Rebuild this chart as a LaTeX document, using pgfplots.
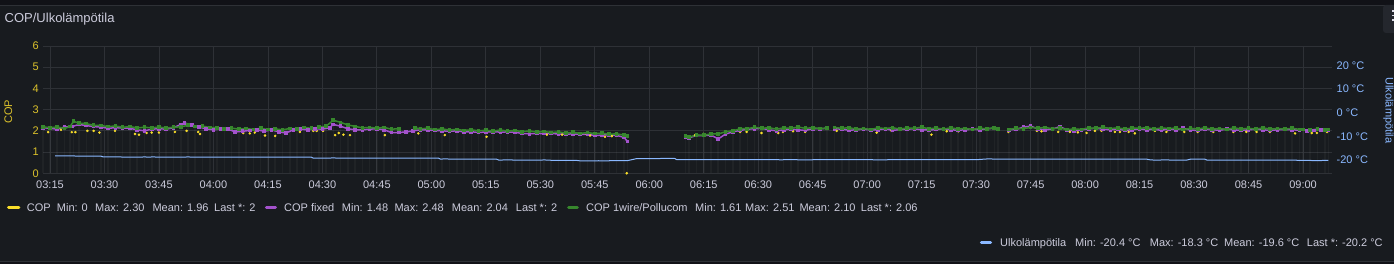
\documentclass[border=0pt]{standalone}
\usepackage{pgfplots}
\usepackage{pgfplotstable}
\pgfplotsset{compat=1.18}
\usepackage{fontspec}
\setmainfont{Liberation Sans}
\definecolor{bg}{HTML}{181B1F}
\definecolor{topbg}{HTML}{111217}
\definecolor{gridc}{HTML}{2E3136}
\definecolor{txt}{HTML}{CCCCDC}
\definecolor{cy}{HTML}{FADE2A}
\definecolor{ylab}{HTML}{DCC22B}
\definecolor{cp}{HTML}{A352CC}
\definecolor{cg}{HTML}{37872D}
\definecolor{cb}{HTML}{8AB8FF}
\definecolor{menu}{HTML}{24272D}

\pgfplotstableread{
t v
193 2.19
195 2.15
197 2.18
199 2.11
200.5 2.20
201.5 2.45
203 2.36
205 2.34
207 2.26
209 2.25
211 2.20
213 2.23
215 2.17
217 2.20
219 2.14
221 2.17
223 2.14
225 2.18
227 2.13
229 2.17
231 2.19
233 2.26
235 2.21
237 2.22
239 2.16
241 2.15
243 2.10
245 2.13
247 2.08
249 2.11
251 2.07
253 2.12
255 2.06
257 2.09
259 2.05
261 2.11
263 2.10
265 2.16
267 2.12
269 2.17
271 2.22
273 2.50
275 2.40
277 2.28
279 2.21
281 2.14
283 2.16
285 2.13
287 2.16
289 2.08
291 2.10
292.5 nan
295.5 2.14
297 2.10
299 2.12
301 2.06
303 2.09
305 2.04
307 2.07
309 2.02
311 2.05
313 2.00
315 2.03
317 1.99
319 2.04
321 1.99
323 2.02
325 1.96
327 2.00
329 1.94
331 1.97
333 1.92
335 1.95
337 1.90
339 1.93
341 1.88
343 1.92
345 1.87
347 1.89
349 1.84
351 1.86
353 1.80
354 1.76
355 nan
370 1.75
371 1.70
373 1.81
375 1.79
377 1.86
379 1.85
381 1.96
383 2.00
385 2.10
387 2.10
389 2.17
391 2.12
393 2.15
395 2.08
397 2.14
399 2.12
401 2.18
403 2.12
405 2.15
407 2.11
409 2.13
410 nan
411 2.16
413 2.12
415 2.15
417 2.08
419 2.11
421 2.07
423 2.14
425 2.11
427 2.15
429 2.08
431 2.14
433 2.12
435 2.17
437 2.10
439 2.13
441 2.08
443 2.14
445 2.09
447 2.11
449 2.07
451 2.12
453 2.10
455 2.15
456 2.10
457 nan
459 2.07
461 2.12
463 2.10
465 2.16
467 2.13
469 2.16
471 2.10
473 2.13
475 2.06
477 2.09
479 2.07
481 2.14
483 2.12
485 2.17
487 2.11
489 2.14
491 2.08
493 2.14
495 2.12
497 2.15
499 2.08
501 2.14
503 2.11
505 2.13
507 2.06
509 2.12
511 2.09
513 2.14
515 2.08
517 2.11
519 2.07
521 2.14
523 2.09
525 2.12
527 2.08
529 2.14
531 2.08
533 2.11
535 2.08
537 2.12
539 2.07
540 2.06
541 nan
542 2.04
544 2.09
546 2.05
547 2.06
}\green

\pgfplotstableread{
t v
193 2.15
195 2.12
197 2.08
199 2.18
201 2.20
203 2.30
205 2.25
207 2.20
209 2.18
211 2.12
213 2.15
215 2.14
217 2.12
219 2.05
221 2.00
223 2.08
225 2.10
227 2.08
229 2.15
231 2.30
232 2.37
234 2.28
236 2.18
238 2.10
240 2.05
242 2.10
244 2.08
246 1.95
248 1.98
250 2.02
252 2.05
254 1.98
256 2.05
258 1.95
260 1.90
262 2.05
264 2.08
266 2.05
268 2.10
270 2.08
272 2.15
273 2.30
275 2.22
277 2.10
279 2.05
281 2.05
283 2.08
285 2.10
287 2.05
289 1.92
291 1.92
293 1.95
295 2.00
297 2.05
299 2.05
301 2.02
303 2.00
305 1.98
307 2.00
309 1.95
311 1.96
313 1.92
315 1.95
317 1.96
319 1.94
321 1.95
323 1.93
325 1.88
327 1.86
329 1.88
331 1.87
333 1.88
335 1.85
337 1.84
339 1.86
341 1.83
343 1.84
345 1.78
347 1.80
349 1.82
351 1.78
353 1.70
354 1.50
355 nan
370 1.72
371 1.68
373 1.78
375 1.78
377 1.80
379 1.62
381 1.85
383 1.95
385 2.02
387 2.08
389 2.10
391 2.12
393 2.05
395 2.00
397 2.05
399 2.08
401 2.05
403 2.02
405 2.10
407 2.10
409 2.12
410 nan
411 2.10
413 2.08
415 2.03
417 2.05
419 2.08
421 2.04
423 2.05
425 2.10
427 2.02
429 2.06
431 2.08
433 2.10
435 2.05
437 2.04
439 2.06
441 2.10
443 2.05
445 2.03
447 2.05
449 2.08
451 2.05
453 2.10
455 2.12
457 nan
459 2.05
461 2.06
463 2.18
465 2.22
467 2.10
469 2.05
471 2.08
473 2.20
475 2.05
477 2.00
479 2.05
481 2.10
483 2.12
485 2.08
487 2.05
489 2.08
491 2.03
493 2.05
495 2.10
497 2.05
499 2.08
501 2.02
503 2.10
505 2.05
507 2.12
509 2.04
511 2.02
513 2.08
515 2.05
517 2.03
519 2.08
521 2.05
523 2.02
525 2.05
527 2.08
529 2.05
531 2.02
533 2.05
535 2.06
537 2.05
539 2.03
540 nan
541 2.00
543 2.02
545 2.05
547 2.03
}\purple

\pgfplotstableread{
t v
194.5 1.94
198 2.05
201 1.94
202 1.94
205.3 2.00
207 2.00
208.6 1.92
212.9 2.00
218.4 1.85
219.5 1.82
221.6 1.90
223 1.92
225 1.92
229.4 1.95
232.6 2.00
235.8 1.95
236.3 1.85
248.2 1.90
250 1.88
251.4 1.92
254.2 1.78
257 1.76
263.8 1.95
267.5 2.00
268.4 2.00
270.2 2.00
273.5 1.80
274.5 1.90
275.8 1.82
277.6 1.80
287.2 1.80
296.4 1.88
303.7 1.80
315.2 1.72
331.8 1.82
336 1.82
342.8 1.82
343.7 1.78
347.8 1.72
349.7 1.75
353.8 0.00
372.6 1.80
375 1.85
379 1.65
385 1.95
386.8 1.95
390.9 1.90
395.5 1.90
396.8 1.95
399.6 1.98
402.9 1.95
411.6 2.00
422.6 1.92
426.7 2.00
436.8 2.00
437.7 1.82
441.9 1.98
445.1 1.98
458.9 1.95
466.7 2.00
468 1.98
472.6 1.95
475.8 1.95
478 1.93
480.4 1.90
482.7 2.00
484.5 2.00
488.2 1.95
489.6 1.95
492 1.95
493.7 1.88
499.2 2.00
502.4 1.95
505 2.00
507.3 1.95
511 1.95
515.3 1.95
520.8 1.95
524.4 1.95
527.2 1.95
530.9 1.95
536.9 2.00
537.8 1.88
542.4 1.90
543.8 1.90
546.6 1.95
}\yellow

\pgfplotstableread{
t v
196.4 -18.30
203 -18.35
209 -18.40
209.6 -18.70
214 -18.70
215.5 -18.85
220 -18.85
221 -18.70
222 -18.85
223.5 -18.70
224.5 -18.85
232 -18.85
233 -18.70
234 -18.85
267 -18.85
267.5 -19.25
272 -19.25
273 -19.10
274 -19.25
302 -19.25
302.5 -19.65
304 -19.55
305 -19.65
318 -19.70
318.5 -20.05
322 -20.00
323 -20.10
330 -20.10
331 -20.00
333 -20.15
340 -20.20
341 -20.40
346 -20.35
348 -20.40
350 -20.30
352 -20.35
354 -20.30
356.5 -19.45
360 -19.50
363 -19.40
365.7 -19.30
367 -19.40
367.6 -19.90
380 -19.90
395 -19.85
396 -19.95
400 -19.85
401 -19.95
410 -19.90
420 -19.85
422 -19.95
430 -19.90
440 -19.90
445 -19.85
450 -19.90
452.9 -19.60
460 -19.65
470 -19.70
497 -19.70
498 -20.00
500 -20.10
502 -19.95
504 -20.10
508 -20.05
509 -19.70
513 -19.70
513.5 -20.05
520 -20.10
530 -20.10
538 -20.10
539 -20.25
541 -20.15
543 -20.30
547 -20.20
}\temp

\begin{document}
\begin{tikzpicture}
\fill[bg] (0pt,0pt) rectangle (1394pt,264pt);
\useasboundingbox (0pt,0pt) rectangle (1394pt,264pt);
\fill[topbg] (0pt,259pt) rectangle (1394pt,264pt);
\draw[gridc, line width=0.8pt] (0pt,259pt) -- (1394pt,259pt);
\fill[topbg] (0pt,0pt) rectangle (1394pt,2.5pt);
\draw[gridc, line width=0.8pt] (0pt,2.5pt) -- (1394pt,2.5pt);
\fill[menu, rounded corners=3pt] (1383pt,231pt) rectangle (1400pt,259pt);
\foreach \yy in {252,247.5,243} {\fill[txt!70] (1391.5pt,\yy pt) rectangle (1394pt,\yy pt+1.5pt);}

\node[anchor=base west, inner sep=0pt, text=txt, font=\fontsize{13}{15}\selectfont] at (4.5pt,241.5pt) {COP/Ulkolämpötila};

\begin{axis}[
  at={(43pt,90.7pt)}, anchor=south west,
  scale only axis, width=1289pt, height=127.3pt,
  xmin=193.07, xmax=547.98, ymin=0, ymax=6,
  axis x line*=bottom, axis y line*=left,
  axis line style={draw=none},
  major tick length=0pt,
  grid=major, major grid style={gridc, line width=0.8pt},
  xtick={195,210,...,540},
  xticklabels={03:15,03:30,03:45,04:00,04:15,04:30,04:45,05:00,05:15,05:30,05:45,06:00,06:15,06:30,06:45,07:00,07:15,07:30,07:45,08:00,08:15,08:30,08:45,09:00},
  ytick={0,1,...,6},
  yticklabels={0,1,2,3,4,5,6},
  xticklabel style={inner sep=0pt, anchor=north, yshift=-7.6pt, text=txt, font=\fontsize{11}{13}\selectfont},
  yticklabel style={inner sep=0pt, anchor=east, xshift=-4pt, text=ylab, font=\fontsize{11}{13}\selectfont},
  unbounded coords=jump,
  clip=false,
]
\addplot[ycomb, draw=white, draw opacity=0.035, line width=1.6pt, mark=none] table[x=t,y=v] {\green};
\addplot[only marks, mark=*, mark size=1.05pt, cy] table[x=t,y=v] {\yellow};
\addplot[cp, line width=1.5pt, mark=square*, mark size=1.1pt] table[x=t,y=v] {\purple};
\addplot[cg, line width=1.5pt, mark=square*, mark size=1.1pt] table[x=t,y=v] {\green};
\end{axis}

\begin{axis}[
  at={(43pt,90.7pt)}, anchor=south west,
  scale only axis, width=1289pt, height=127.3pt,
  xmin=193.07, xmax=547.98, ymin=-25.66, ymax=28.21,
  axis x line=none, axis y line*=right,
  axis line style={draw=none},
  major tick length=0pt,
  ytick={-20,-10,0,10,20},
  yticklabels={-20 °C,-10 °C,0 °C,10 °C,20 °C},
  yticklabel style={inner sep=0pt, anchor=west, xshift=4.5pt, text=cb, font=\fontsize{11}{13}\selectfont},
]
\addplot[cb, line width=1pt, mark=none] table[x=t,y=v] {\temp};
\end{axis}

\node[rotate=90, inner sep=0pt, text=ylab, font=\fontsize{11}{13}\selectfont] at (8.3pt,152.3pt) {COP};
\node[rotate=-90, inner sep=0pt, text=cb, font=\fontsize{11}{13}\selectfont] at (1388.5pt,153.5pt) {Ulkolämpötila};

\tikzset{lg/.style={anchor=base west, inner sep=0pt, text=txt, font=\fontsize{11}{13}\selectfont}}
\draw[cy, line width=3pt, line cap=round] (8.5pt,56pt) -- (18.8pt,56pt);
\node[lg] at (26.7pt,52.1pt) {COP};
\node[lg] at (56.7pt,52.1pt) {Min: 0};
\node[lg] at (95pt,52.1pt) {Max: 2.30};
\node[lg] at (152.3pt,52.1pt) {Mean: 1.96};
\node[lg] at (214pt,52.1pt) {Last *: 2};
\draw[cp, line width=3pt, line cap=round] (266.3pt,56pt) -- (275.5pt,56pt);
\node[lg] at (284pt,52.1pt) {COP fixed};
\node[lg] at (341.7pt,52.1pt) {Min: 1.48};
\node[lg] at (394.3pt,52.1pt) {Max: 2.48};
\node[lg] at (451.7pt,52.1pt) {Mean: 2.04};
\node[lg] at (515.7pt,52.1pt) {Last *: 2};
\draw[cg, line width=3pt, line cap=round] (568.5pt,56pt) -- (577.3pt,56pt);
\node[lg] at (586pt,52.1pt) {COP 1wire/Pollucom};
\node[lg] at (695pt,52.1pt) {Min: 1.61};
\node[lg] at (745pt,52.1pt) {Max: 2.51};
\node[lg] at (799.3pt,52.1pt) {Mean: 2.10};
\node[lg] at (860.7pt,52.1pt) {Last *: 2.06};
\draw[cb, line width=3pt, line cap=round] (981.3pt,21.7pt) -- (990.5pt,21.7pt);
\node[lg] at (1000pt,17.8pt) {Ulkolämpötila};
\node[lg] at (1075pt,17.8pt) {Min: -20.4 °C};
\node[lg] at (1149.7pt,17.8pt) {Max: -18.3 °C};
\node[lg] at (1224pt,17.8pt) {Mean: -19.6 °C};
\node[lg] at (1306.7pt,17.8pt) {Last *: -20.2 °C};
\end{tikzpicture}
\end{document}
